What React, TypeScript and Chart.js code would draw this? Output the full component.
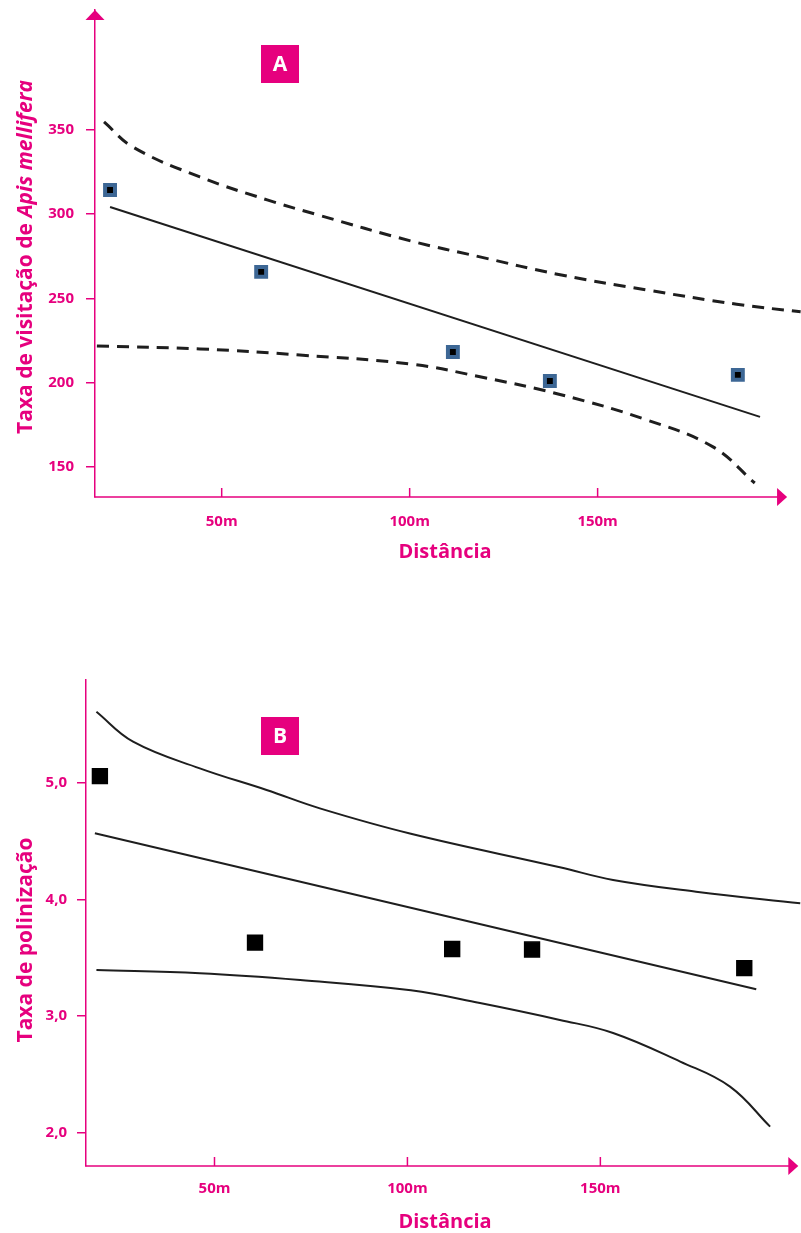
import React, { useEffect, useRef } from "react";
import { Chart, registerables } from "chart.js";

Chart.register(...registerables);

const PINK = "#e6007e";
const FONT = "'Open Sans', 'Noto Sans', sans-serif";

// ---------- Chart A: Taxa de visitação de Apis mellifera ----------
const distA = [20.3, 60.5, 111.5, 137.3, 187.3];
const visitA = [314.3, 265.7, 218.2, 201.0, 204.6];
const fitDistA = [20.3, 193.2];
const fitVisitA = [304.2, 179.7];
const upperDistA = [18.7, 26.4, 44.2, 62.1, 75.6, 100.4, 118.7, 140, 163, 187, 204];
const upperVisitA = [354.6, 339.7, 322.0, 308.4, 299.5, 284, 274.6, 264, 255, 246.5, 242];
const lowerDistA = [16.8, 44.2, 70.8, 100.4, 118.7, 140, 163.1, 180.7, 191.8];
const lowerVisitA = [221.8, 220.0, 216.4, 211, 203.5, 193, 177.9, 161.9, 140.5];

// ---------- Chart B: Taxa de polinização ----------
const distB = [20.3, 60.5, 111.6, 132.3, 187.3];
const polB = [5.06, 3.63, 3.575, 3.57, 3.41];
const fitDistB = [19.0, 190.4];
const fitPolB = [4.569, 3.229];
const upperDistB = [19.4, 28.9, 46.2, 63.5, 77.3, 100.9, 139.5, 153.3, 174.8, 201.8];
const upperPolB = [5.613, 5.356, 5.127, 4.941, 4.783, 4.565, 4.277, 4.168, 4.067, 3.967];
const lowerDistB = [19.4, 46.2, 72.2, 100.9, 118.8, 139.5, 153.3, 170.7, 183.6, 194.0];
const lowerPolB = [3.394, 3.366, 3.308, 3.22, 3.11, 2.965, 2.853, 2.607, 2.392, 2.048];

// ---------- ticks ----------
const xTicks = [50, 100, 150];
const xTickLabels = ["50m", "100m", "150m"];
const yTicksA = [150, 200, 250, 300, 350];
const yTickLabelsA = ["150", "200", "250", "300", "350"];
const yTicksB = [2, 3, 4, 5];
const yTickLabelsB = ["2,0", "3,0", "4,0", "5,0"];

const xTitle = "Distância";
const yTitleA = [
  { text: "Taxa de visitação de ", italic: false },
  { text: "Apis mellifera", italic: true },
];
const yTitleB = [{ text: "Taxa de polinização", italic: false }];

const pts = (xs: number[], ys: number[]) => xs.map((x, i) => ({ x, y: ys[i] }));

const decorPlugin = {
  id: "decor",
  afterDraw(chart: any, _args: any, opts: any) {
    const { ctx, chartArea, scales } = chart;
    const xs = scales.x;
    ctx.save();
    ctx.strokeStyle = PINK;
    ctx.fillStyle = PINK;
    ctx.lineWidth = 1.5;
    const axisY = chartArea.bottom;
    const tipX = xs.getPixelForValue(opts.arrowX);
    // x axis line
    ctx.beginPath();
    ctx.moveTo(chartArea.left - 0.75, axisY);
    ctx.lineTo(tipX - 8, axisY);
    ctx.stroke();
    // x arrow head
    ctx.beginPath();
    ctx.moveTo(tipX, axisY);
    ctx.lineTo(tipX - 10, axisY - 9);
    ctx.lineTo(tipX - 10, axisY + 9);
    ctx.closePath();
    ctx.fill();
    // x tick marks (pointing up, inside)
    xTicks.forEach((v) => {
      const px = xs.getPixelForValue(v);
      ctx.beginPath();
      ctx.moveTo(px, axisY);
      ctx.lineTo(px, axisY - 9);
      ctx.stroke();
    });
    // y arrow head
    if (opts.yArrow) {
      const x0 = chartArea.left;
      const y0 = chartArea.top;
      ctx.beginPath();
      ctx.moveTo(x0, y0);
      ctx.lineTo(x0 - 9.5, y0 + 10);
      ctx.lineTo(x0 + 9.5, y0 + 10);
      ctx.closePath();
      ctx.fill();
    }
    // x title
    ctx.font = `bold 20px ${FONT}`;
    ctx.textAlign = "center";
    ctx.textBaseline = "middle";
    ctx.fillText(xTitle, opts.xTitleX, opts.xTitleY);
    // label box
    ctx.fillRect(opts.box.x, opts.box.y, 38, 38);
    ctx.fillStyle = "#ffffff";
    ctx.font = `bold 21px ${FONT}`;
    ctx.fillText(opts.box.text, opts.box.x + 19, opts.box.y + 20);
    // y title (rotated)
    ctx.fillStyle = PINK;
    ctx.translate(opts.yTitleX, opts.yTitleY);
    ctx.rotate(-Math.PI / 2);
    ctx.textAlign = "left";
    const parts = opts.yTitle as { text: string; italic: boolean }[];
    const fontFor = (p: any) => `${p.italic ? "italic " : ""}bold 21px ${FONT}`;
    let total = 0;
    parts.forEach((p) => {
      ctx.font = fontFor(p);
      total += ctx.measureText(p.text).width;
    });
    let cx = -total / 2;
    parts.forEach((p) => {
      ctx.font = fontFor(p);
      ctx.fillText(p.text, cx, 0);
      cx += ctx.measureText(p.text).width;
    });
    ctx.restore();
  },
};

const zeroPad = (s: any) => {
  s.paddingTop = 0;
  s.paddingBottom = 0;
  s.paddingLeft = 0;
  s.paddingRight = 0;
};

function makeConfig(p: any) {
  const datasets: any[] = [
    {
      data: pts(p.px, p.py),
      pointStyle: "rect",
      pointRadius: p.markerRadius,
      pointBorderWidth: p.markerBorder,
      pointBackgroundColor: "#000000",
      pointBorderColor: p.markerBorderColor,
      showLine: false,
    },
    {
      data: pts(p.fx, p.fy),
      showLine: true,
      pointRadius: 0,
      borderColor: "#1e1e1e",
      borderWidth: 2,
    },
    {
      data: pts(p.ux, p.uy),
      showLine: true,
      pointRadius: 0,
      borderColor: "#1e1e1e",
      borderWidth: p.curveWidth,
      borderDash: p.dash,
      tension: 0.4,
    },
    {
      data: pts(p.lx, p.ly),
      showLine: true,
      pointRadius: 0,
      borderColor: "#1e1e1e",
      borderWidth: p.curveWidth,
      borderDash: p.dash,
      tension: 0.4,
    },
  ];
  return {
    type: "scatter",
    data: { datasets },
    plugins: [decorPlugin],
    options: {
      responsive: false,
      animation: false,
      events: [],
      layout: { autoPadding: false, padding: { top: p.padTop, right: 0, bottom: 0, left: 0 } },
      plugins: {
        legend: { display: false },
        tooltip: { enabled: false },
        decor: p.decor,
      },
      scales: {
        x: {
          type: "linear",
          min: p.xMin,
          max: p.xMax,
          afterBuildTicks: (s: any) => {
            s.ticks = xTicks.map((v) => ({ value: v }));
          },
          afterFit: (s: any) => {
            s.height = p.xHeight;
            zeroPad(s);
          },
          grid: { display: false, drawTicks: false, tickLength: 0 },
          border: { display: false },
          ticks: {
            autoSkip: false,
            maxRotation: 0,
            padding: p.xTickPad,
            color: PINK,
            font: { family: FONT, size: 15, weight: "bold" },
            callback: (_v: any, i: number) => xTickLabels[i],
          },
        },
        y: {
          type: "linear",
          min: p.yMin,
          max: p.yMax,
          afterBuildTicks: (s: any) => {
            s.ticks = p.yTicks.map((v: number) => ({ value: v }));
          },
          afterFit: (s: any) => {
            s.width = p.yWidth;
            zeroPad(s);
          },
          grid: {
            display: true,
            drawOnChartArea: false,
            drawTicks: true,
            tickLength: 9,
            color: PINK,
            lineWidth: 1.5,
          },
          border: { display: true, color: PINK, width: 1.5 },
          ticks: {
            autoSkip: false,
            padding: p.yTickPad,
            color: PINK,
            font: { family: FONT, size: 15, weight: "bold" },
            callback: (_v: any, i: number) => p.yTickLabels[i],
          },
        },
      },
    },
  };
}

const configA = makeConfig({
  px: distA, py: visitA, fx: fitDistA, fy: fitVisitA,
  ux: upperDistA, uy: upperVisitA, lx: lowerDistA, ly: lowerVisitA,
  markerRadius: 7, markerBorder: 4, markerBorderColor: "#3d6795",
  curveWidth: 3, dash: [12, 8],
  padTop: 10, xMin: 16.3, xMax: 204.1, yMin: 132.2, yMax: 421,
  xHeight: 103, yWidth: 95, xTickPad: 16, yTickPad: 12,
  yTicks: yTicksA, yTickLabels: yTickLabelsA,
  decor: {
    arrowX: 200.4, yArrow: true, xTitleX: 445, xTitleY: 552,
    yTitleX: 26, yTitleY: 257, yTitle: yTitleA,
    box: { x: 261, y: 45, text: "A" },
  },
});

const configB = makeConfig({
  px: distB, py: polB, fx: fitDistB, fy: fitPolB,
  ux: upperDistB, uy: upperPolB, lx: lowerDistB, ly: lowerPolB,
  markerRadius: 10.5, markerBorder: 1.5, markerBorderColor: "#000000",
  curveWidth: 2, dash: [],
  padTop: 80, xMin: 16.7, xMax: 202, yMin: 1.71, yMax: 5.886,
  xHeight: 67, yWidth: 86, xTickPad: 14, yTickPad: 10,
  yTicks: yTicksB, yTickLabels: yTickLabelsB,
  decor: {
    arrowX: 201.3, yArrow: false, xTitleX: 445, xTitleY: 622,
    yTitleX: 26, yTitleY: 340, yTitle: yTitleB,
    box: { x: 261, y: 117, text: "B" },
  },
});

function ChartCanvas({ config, height }: { config: any; height: number }) {
  const ref = useRef<HTMLCanvasElement | null>(null);
  useEffect(() => {
    if (!ref.current) return;
    const chart = new Chart(ref.current, config);
    return () => chart.destroy();
  }, [config]);
  return <canvas ref={ref} width={801} height={height} style={{ display: "block", width: 801, height }} />;
}

export default function App() {
  useEffect(() => {
    document.body.style.margin = "0";
    document.body.style.background = "#ffffff";
  }, []);
  return (
    <div style={{ width: 801, height: 1233, background: "#ffffff" }}>
      <ChartCanvas config={configA} height={600} />
      <ChartCanvas config={configB} height={633} />
    </div>
  );
}
